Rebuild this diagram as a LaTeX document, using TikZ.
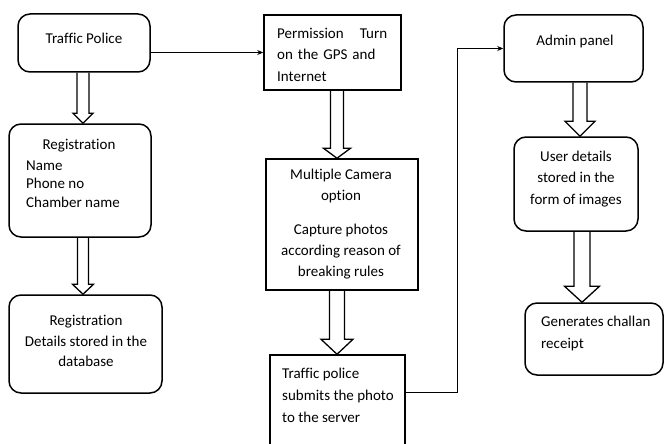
\documentclass[tikz,border=0pt]{standalone}
\usepackage{fontspec}
\setmainfont{Carlito}[Ligatures=NoCommon]
\usetikzlibrary{positioning, calc, arrows.meta}

% hollow block arrow: tail, tip, shaft half width, head half width, head length
\newcommand{\blockarrow}[5]{%
  \draw[hollow] let \p1=(#1), \p2=(#2) in
    (\x1-#3pt,\y1) -- (\x1-#3pt,\y2+#5pt) -- (\x1-#4pt,\y2+#5pt) -- (\x1,\y2)
    -- (\x1+#4pt,\y2+#5pt) -- (\x1+#3pt,\y2+#5pt) -- (\x1+#3pt,\y1);
}

\begin{document}
\begin{tikzpicture}[
    x=1pt, y=-1pt,
    font=\fontsize{15}{21}\selectfont,
    rbox/.style={rectangle, rounded corners=12pt, draw, line width=1.5pt, inner sep=0pt},
    sbox/.style={rectangle, draw, line width=1.5pt, inner sep=0pt},
    txt/.style={inner sep=0pt, align=center},
    conn/.style={-{Stealth[length=6pt, width=5pt]}, line width=0.8pt},
    hollow/.style={draw, line width=1.3pt, line join=miter}
]
    \useasboundingbox (0,0) rectangle (664,444);
    \clip (0,0) rectangle (664,444);

    % boxes
    \node[rbox, minimum width=132pt, minimum height=58pt] (tp) at (84,43) {};
    \node[rbox, minimum width=142pt, minimum height=113pt] (reg) at (80,180.5) {};
    \node[rbox, minimum width=153pt, minimum height=98pt] (db) at (85.5,344) {};
    \node[sbox, minimum width=137pt, minimum height=75pt] (perm) at (332.5,52.5) {};
    \node[sbox, minimum width=152pt, minimum height=131pt] (cam) at (342,224.5) {};
    \node[sbox, minimum width=135pt, minimum height=100pt] (sub) at (337.5,405) {};
    \node[rbox, minimum width=139pt, minimum height=67pt] (adm) at (573.5,48.5) {};
    \node[rbox, minimum width=124pt, minimum height=94pt] (usr) at (576,184) {};
    \node[rbox, minimum width=138pt, minimum height=72pt] (gen) at (594,339) {};

    % texts
    \node[txt] (tptext) at (84,38) {Traffic Police};
    \node[txt] (regtitle) at (79,146) {Registration};
    \node[txt, align=left, anchor=west, font=\fontsize{15}{18.5}\selectfont] (regitems) at (26,184) {Name\\Phone no\\Chamber name};
    \node[txt, font=\fontsize{15}{20.5}\selectfont] (dbtext) at (86,341) {Registration\\Details stored in the\\database};
    \node[txt, align=left, anchor=west, text width=110pt, font=\fontsize{15}{21.5}\selectfont] (permtext) at (277,54.5) {Permission\hfill Turn\\on the GPS and\\Internet};
    \node[txt] (camtext) at (341,224.5) {Multiple Camera\\option\\[13pt]Capture photos\\according reason of\\breaking rules};
    \node[txt, align=left, anchor=west, font=\fontsize{15}{22}\selectfont] (subtext) at (282,395) {Traffic police\\submits the photo\\to the server};
    \node[txt] (admtext) at (575,42) {Admin panel};
    \node[txt, font=\fontsize{15}{21.5}\selectfont] (usrtext) at (576,179) {User details\\stored in the\\form of images};
    \node[txt, align=left, anchor=west, font=\fontsize{15}{22}\selectfont] (gentext) at (541,333) {Generates challan\\receipt};

    % block arrows
    \blockarrow{[xshift=-1pt]tp.south}{reg.north}{6}{10}{10}
    \blockarrow{[xshift=3pt]reg.south}{db.north}{5.5}{10.5}{10}
    \blockarrow{[xshift=4.5pt]perm.south}{cam.north}{6.5}{13.5}{10}
    \blockarrow{[xshift=-5pt]cam.south}{sub.north}{7.5}{16}{15}
    \blockarrow{[xshift=6.5pt]adm.south}{usr.north}{7}{15}{15}
    \blockarrow{[xshift=6pt]usr.south}{gen.north}{8}{17.5}{16}

    % connectors
    \draw[conn] (tp.east |- perm.west) -- (perm.west);
    \draw[conn] ([yshift=-38pt]sub.north east) -- ++(52,0) |- (adm.west);
\end{tikzpicture}
\end{document}
